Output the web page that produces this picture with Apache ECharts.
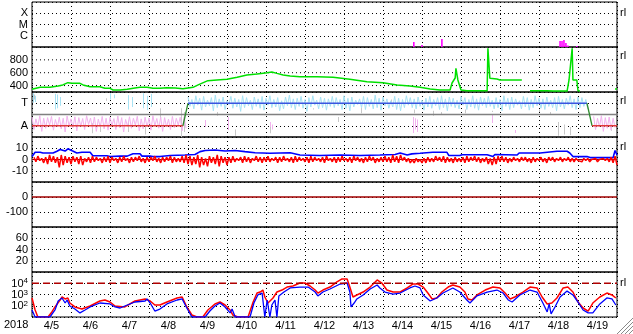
<!DOCTYPE html>
<html><head><meta charset="utf-8">
<script src="https://cdn.jsdelivr.net/npm/echarts@6/dist/echarts.min.js"></script>
<style>html,body{margin:0;padding:0;background:#fff;overflow:hidden}#c{width:633px;height:334px}</style>
</head><body><div id="c"></div>
<script>
// ---------- DATA (x in days since 2018-04-05 00:00 UT) ----------
const yearLabel = '2018';
const dayLabels = ['4/5','4/6','4/7','4/8','4/9','4/10','4/11','4/12','4/13','4/14','4/15','4/16','4/17','4/18','4/19'];
const xrayLabels = {1:'C', 2:'M', 3:'X'};
const speedLabels = [400, 600, 800];
const btLabels = [-10, 0, 10];
const dstLabels = [0, -100];
const kpLabels = [20, 40, 60];
const fluxLabelExp = [2, 3, 4];
const rightMarks = ['rl','rl','rl','rl','rl'];

// X-ray flare bars
const xrayDays = [9.79, 10.0, 10.51, 13.54, 13.59, 13.64, 13.69, 13.74, 13.97];
const xrayFlux = [2.8e-7, 1.5e-7, 5.1e-7, 3.4e-7, 3.4e-7, 4.2e-7, 2.3e-7, 1.35e-7, 1.2e-7];

// Solar wind speed (km/s), null = gap
const speedDays = [0,0.21,0.46,0.67,0.79,0.92,1.03,1.23,1.31,1.49,1.74,1.87,2.0,2.08,2.26,2.44,2.64,2.77,2.95,3.10,3.28,3.46,3.67,3.87,4.13,4.26,4.31,4.51,4.74,5.0,5.26,5.51,5.77,6.03,6.15,6.28,6.44,6.62,6.87,7.31,7.72,8.15,8.59,9.0,9.36,9.69,9.95,10.21,10.46,10.72,10.77,10.85,10.87,10.92,10.97,11.0,11.15,11.49,11.67,11.69,11.74,11.92,12.0,12.56,12.6,12.77,13.21,13.36,13.72,13.77,13.85,13.87,13.97,14.0,14.05,14.1,14.95,15.0];
const speed =     [342,373,373,393,410,445,435,435,410,383,383,357,357,331,331,342,362,373,373,357,357,367,362,352,373,410,435,476,487,497,528,565,580,600,611,590,565,550,538,538,528,497,460,445,410,393,373,347,331,331,440,518,669,487,487,331,320,320,320,980,513,502,487,487,null,320,320,315,315,487,980,487,487,320,315,null,347,347];

// IMF sector: polarity steps
const sectorDays = [0, 3.87, 4.0, 14.23, 14.36, 15];
const sectorPol  = ['A','A','T','T','A','A'];

// IMF longitude angle (deg) envelopes, 0.1-day samples
const cyanStart = 4.0;
const cyanHi = [320,300,330,310,325,295,315,335,305,320,290,325,310,300,330,315,295,320,305,325,310,330,300,315,290,320,335,305,310,325,300,315,330,295,320,310,305,325,315,300,330,310,320,295,305,325,315,300,335,310,320,305,290,325,310,300,330,315,305,320,295,310,325,300,315,330,305,320,310,295,325,315,300,330,305,320,310,325,295,315,300,330,310,320,305,290,325,315,300,330,310,305,320,295,315,325,300,310,330,305,320,315,300];
const cyanLo = [245,225,255,215,240,250,210,235,245,220,260,230,240,205,235,250,220,245,230,215,255,235,240,210,225,250,235,220,245,230,205,240,255,225,235,215,245,235,250,220,230,210,240,260,235,220,245,225,235,215,250,230,240,220,210,235,255,235,225,245,215,240,230,250,220,235,210,245,235,225,255,220,240,230,215,250,235,245,225,235,210,245,220,235,255,225,240,215,235,250,230,220,245,235,210,240,225,255,235,220,235,245,225];
const pinkStart = 0.0;
const pinkHi = [160,145,170,150,155,165,140,158,150,168,145,162,155,148,170,152,160,143,165,150,158,147,168,155,140,162,150,166,145,158,152,170,148,160,155,143,165,150,158,162];
const pinkLo = [60,85,45,70,95,55,80,65,40,90,75,50,85,60,100,70,45,80,65,55,90,60,75,40,85,70,95,50,65,80,55,90,70,45,80,60,75,95,50,70];
const pinkEndStart = 14.4;
const pinkEndHi = [165,150,170,155,160,150];
const pinkEndLo = [60,80,45,70,55,75];
// isolated streaks [day, angle1, angle2]
const cyanStreaks = [[0.03,350,275],[0.08,330,280],[0.6,345,220],[0.66,340,230],[0.72,320,250],[2.0,350,300],[2.1,340,310],[2.46,335,220],[2.56,320,240],[2.85,350,230],[2.95,330,215],[3.05,345,240]];
const pinkStreaks = [[4.44,136,80],[5.03,160,56],[6.1,120,80],[6.15,100,60],[9.77,160,32],[9.82,150,60],[9.87,140,40],[11.8,176,112],[12.38,56,32]];
const grayStreaks = [[0.05,340,300],[1.55,110,30],[1.75,100,40],[1.9,310,290],[2.48,130,40],[2.9,90,20],[3.28,230,150],[3.82,230,0],[3.9,200,40],[4.75,200,170],[5.2,60,10],[6.12,100,30],[7.2,230,220],[7.85,160,120],[8.45,235,190],[9.2,300,280],[9.8,220,190],[10.3,210,170],[10.5,200,180],[11.1,220,190],[11.8,210,200],[13.0,220,200],[13.3,200,180],[13.5,120,10],[13.65,100,20],[13.8,80,15],[14.85,100,50]];

// IMF |B| (nT)
const btDays = [0,0.08,0.21,0.28,0.54,0.64,0.72,0.85,0.92,1.03,1.15,1.28,1.49,1.56,1.92,2.0,2.26,2.44,2.59,2.77,2.82,3.03,3.10,3.28,3.54,3.92,4.18,4.31,4.44,4.69,4.95,5.21,5.46,5.72,6.10,6.62,6.87,7.38,7.90,8.41,8.92,9.31,9.44,9.62,9.74,9.95,10.28,10.64,10.69,10.97,11.03,11.67,11.72,11.82,11.87,12.44,12.49,13.03,13.46,13.72,13.79,13.87,14.23,14.31,14.90,14.95,15.0];
const bt =     [2.6,6.4,6.4,5.8,5.8,7.3,8.9,7.5,9.5,7.7,5.8,6.4,6.4,3.3,3.3,2.6,3.0,3.0,5.1,5.1,3.0,3.0,2.6,2.6,3.5,4.0,4.5,7.0,8.0,8.5,7.5,8.0,7.0,6.0,5.5,6.0,4.0,3.5,4.0,3.5,4.0,4.5,5.8,4.0,5.0,5.5,6.4,6.4,3.5,3.5,4.2,4.2,2.6,2.6,4.5,4.0,5.8,5.8,7.3,7.3,5.8,2.6,2.6,1.7,1.7,8.0,4.0];
// IMF Bz (nT) envelope, 0.1-day samples
const bzStart = 0.0;
const bzHi = [2,3,1,2,4,3,2,4,3,2, 3,2,3,1,2,3,2,1,2,3, 2,1,2,3,1,2,2,3,1,2, 2,3,1,2,2,3,2,1,3,4, 3,2,4,2,1,3,2,4,3,2, 2,3,1,2,3,2,1,3,2,2, 3,1,2,2,3,1,2,3,2,1, 2,3,2,1,2,3,1,2,2,3, 1,2,3,2,1,2,3,2,1,2, 3,2,4,3,4,2,1,0,1,0, 1,2,1,3,2,3,2,1,2,1, 2,3,2,3,2,1,2,1,2,3, 3,2,1,2,1,2,2,1,2,1, 2,1,2,2,1,2,1,2,1,1, 0,1,1,0,1,0,1,1,2,3];
const bzLo = [-2,-1,-3,-4,-2,-3,-7,-5,-3,-4, -2,-4,-5,-2,-3,-2,-1,-3,-2,-3, -1,-3,-2,-1,-3,-2,-1,-2,-3,-2, -1,-2,-3,-2,-1,-3,-2,-2,-3,-4, -5,-4,-7,-5,-6,-3,-4,-6,-3,-5, -3,-2,-1,-3,-2,-3,-1,-2,-3,-2, -2,-1,-3,-2,-1,-2,-3,-2,-1,-2, -3,-2,-1,-2,-3,-1,-2,-3,-2,-1, -2,-3,-1,-2,-3,-2,-1,-3,-2,-2, -2,-3,-2,-3,-1,-2,-3,-3,-2,-3, -3,-2,-2,-1,-2,-3,-2,-3,-2,-2, -3,-2,-1,-2,-3,-2,-4,-5,-4,-2, -2,-3,-2,-1,-2,-1,-2,-3,-2,-1, -2,-3,-1,-2,-1,-2,-1,-2,-2,-1, -2,-1,-2,-1,-2,-1,-1,-2,-3,-5];

// Electron flux (satellite A red, satellite B blue)
const fluxADays = [0,0.08,0.15,0.41,0.51,0.59,0.72,0.77,0.85,0.92,0.97,1.10,1.28,1.49,1.74,1.87,2.0,2.13,2.38,2.64,2.90,3.03,3.15,3.28,3.46,3.72,3.85,3.97,4.10,4.23,4.38,4.51,4.69,4.82,4.95,5.08,5.15,5.28,5.54,5.67,5.77,5.85,5.92,5.97,6.05,6.18,6.28,6.41,6.54,6.69,6.87,7.0,7.13,7.26,7.33,7.46,7.64,7.82,7.95,8.08,8.15,8.23,8.33,8.49,8.67,8.85,8.97,9.10,9.26,9.44,9.62,9.77,9.90,10.03,10.15,10.26,10.38,10.51,10.67,10.79,10.97,11.10,11.18,11.28,11.41,11.62,11.82,12.0,12.13,12.26,12.38,12.59,12.77,12.95,13.08,13.21,13.33,13.46,13.62,13.74,13.87,14.0,14.13,14.26,14.38,14.56,14.74,14.87,14.97];
const fluxA = [490,42,10,10,28,78,325,600,400,490,175,78,51,95,265,325,215,95,78,265,400,265,117,117,215,490,600,78,15,10,10,42,144,215,117,42,15,10,10,215,1350,1660,2500,600,175,490,1660,2500,4600,5700,10500,10500,5700,2500,1350,2500,4600,13000,24000,24000,4600,600,910,1660,4600,19500,10500,2500,1660,1660,3800,8600,8600,4600,1350,400,490,1660,4600,7000,4600,1660,400,325,910,2500,4600,3800,1350,400,600,1660,4600,3800,600,144,175,490,3800,4600,1660,215,63,34,175,600,1350,910,490];
const fluxBDays = [0,0.08,0.46,0.59,0.67,0.77,0.85,0.90,0.97,1.10,1.23,1.36,1.49,1.74,2.0,2.13,2.26,2.38,2.64,2.90,2.95,3.03,3.15,3.28,3.46,3.72,3.85,3.97,4.10,4.44,4.56,4.69,4.82,4.95,5.08,5.13,5.21,5.59,5.69,5.79,5.90,5.97,6.03,6.10,6.15,6.23,6.28,6.33,6.46,6.62,6.87,7.08,7.26,7.33,7.46,7.64,7.90,8.08,8.15,8.18,8.26,8.33,8.49,8.67,8.85,8.92,9.05,9.26,9.44,9.69,9.82,9.95,10.03,10.21,10.38,10.54,10.79,10.97,11.15,11.23,11.41,11.67,11.92,12.08,12.21,12.31,12.51,12.77,12.95,13.10,13.21,13.26,13.31,13.41,13.54,13.72,13.87,14.0,14.13,14.26,14.31,14.38,14.56,14.74,14.87,14.97];
const fluxB = [42,10,10,42,265,490,175,325,95,51,23,42,78,175,144,78,63,95,215,265,400,175,34,51,144,325,400,63,10,10,34,95,175,78,23,51,10,10,175,910,1350,10,325,10,117,325,10,750,1660,3800,4600,4600,1660,750,1660,3100,8600,10500,1660,78,175,400,910,3100,7000,3800,1660,1100,1350,3800,5700,3800,910,265,490,1350,3800,1660,325,175,750,1660,2500,1350,325,215,910,2500,1660,175,28,144,19,78,600,2000,910,215,42,23,34,23,144,490,400,117];

// ---------- CHART ----------
const FF = '"Liberation Sans", Arial, Helvetica, sans-serif';
const tops = [2, 47, 92, 137, 182, 227, 272];
const dot = {color:'#000', type:[1,3], width:1};
const lab = (fmt, extra) => Object.assign({fontFamily:FF, fontSize:11, color:'#000', margin:4, formatter:fmt}, extra||{});

const grids = tops.map(t => ({left:32, right:16, top:t, height:45, show:true, borderColor:'#000', borderWidth:1, backgroundColor:'rgba(0,0,0,0)'}));
const xAxes = tops.map((t,i) => ({type:'value', gridIndex:i, min:0, max:15, interval:1,
  axisLine:{show:false}, axisTick:{show:false}, axisLabel:{show:false}, splitLine:{show:true, lineStyle:dot}}));
xAxes.push({type:'value', gridIndex:6, min:0, max:15, interval:0.5, position:'bottom',
  axisLine:{show:false}, axisTick:{show:false}, splitLine:{show:false},
  axisLabel:{fontFamily:FF, fontSize:11, color:'#000', margin:3, showMinLabel:true, showMaxLabel:true,
    formatter: v => { const k = v - 0.5; const r = Math.round(k); return (Math.abs(k-r)<1e-6 && r>=0 && r<dayLabels.length) ? dayLabels[r] : ''; }}});

const yc = (i, o) => Object.assign({type:'value', gridIndex:i, axisLine:{show:false}, axisTick:{show:false},
  splitLine:{show:true, lineStyle:dot}}, o);
const yAxes = [
  yc(0, {min:0, max:4, interval:1, axisLabel:lab(v => xrayLabels[v] || '')}),
  yc(1, {min:300, max:1000, interval:100, splitLine:{show:false}, axisLabel:lab(v => speedLabels.includes(v) ? String(v) : '')}),
  yc(2, {min:0, max:360, interval:90, axisLabel:lab(v => v===270 ? 'T' : (v===90 ? 'A' : ''))}),
  yc(3, {min:-20, max:20, interval:10, axisLabel:lab(v => btLabels.includes(v) ? String(v) : '')}),
  yc(4, {min:-200, max:100, interval:100, axisLabel:lab(v => dstLabels.includes(v) ? String(v) : '')}),
  yc(5, {min:0, max:80, interval:20, axisLabel:lab(v => kpLabels.includes(v) ? String(v) : '')}),
  {type:'log', logBase:10, gridIndex:6, min:10, max:100000, axisLine:{show:false}, axisTick:{show:false},
   splitLine:{show:true, lineStyle:dot},
   axisLabel:{fontFamily:FF, color:'#000', margin:4,
     formatter: v => { const e = Math.round(Math.log10(v)); return fluxLabelExp.includes(e) ? '{b|10}{s|' + e + '}' : ''; },
     rich:{b:{fontFamily:FF, fontSize:11, lineHeight:12, color:'#000', verticalAlign:'bottom'},
           s:{fontFamily:FF, fontSize:8, lineHeight:8, color:'#000', verticalAlign:'top'}}}}
];

const base = {animation:false, silent:true, symbol:'none', showSymbol:false};
const ln = (gi, data, color, width, extra) => Object.assign({}, base, {type:'line', xAxisIndex:gi, yAxisIndex:gi, data,
  lineStyle:Object.assign({color, width}, (extra&&extra.ls)||{}), itemStyle:{color}, connectNulls:false, z:(extra&&extra.z)||2});
const hline = (gi, v, color, width, type, z) => ln(gi, [[0,v],[15,v]], color, width, {ls:{type}, z});
const zig = (t0, dt, hi, lo) => { const out = []; for (let i=0;i<hi.length;i++){ out.push([t0+i*dt, hi[i]]); out.push([t0+i*dt+dt/2, lo[i]]); } return out; };
const segs = (arr, color, z) => Object.assign({}, base, {type:'lines', coordinateSystem:'cartesian2d', xAxisIndex:2, yAxisIndex:2, z,
  lineStyle:{color, width:1, opacity:1}, data: arr.map(s => ({coords:[[s[0], s[1]], [s[0], s[2]]]}))});
const polAngle = p => p === 'T' ? 270 : 90;

// sector line pieces
const sectorPieces = [];
for (let i=0;i<sectorDays.length-1;i++){
  const a = polAngle(sectorPol[i]), b = polAngle(sectorPol[i+1]);
  const col = a!==b ? '#2e8b2e' : (a===270 ? '#3a55e0' : '#e23a3a');
  sectorPieces.push(ln(2, [[sectorDays[i], a], [sectorDays[i+1], b]], col, 1.3, {z:6}));
}

const series = [
  Object.assign({}, base, {type:'bar', xAxisIndex:0, yAxisIndex:0, barWidth:1.6, itemStyle:{color:'#ff00ff'},
    data: xrayDays.map((d,i) => [d, Math.log10(xrayFlux[i]) + 7])}),
  ...speedLabels.map(v => hline(1, v, '#000', 1, [1,3], 1)),
  ln(1, speedDays.map((d,i) => [d, speed[i]]), '#00e000', 1.5),
  segs(grayStreaks, '#c8c8c8', 2),
  ln(2, zig(pinkStart, 0.1, pinkHi, pinkLo), '#f2b2ee', 1, {z:3}),
  ln(2, zig(pinkEndStart, 0.1, pinkEndHi, pinkEndLo), '#f2b2ee', 1, {z:3}),
  segs(pinkStreaks, '#f2b2ee', 3),
  ln(2, zig(cyanStart, 0.1, cyanHi, cyanLo), '#a6e2f4', 1, {z:3}),
  segs(cyanStreaks, '#a6e2f4', 3),
  hline(2, 180, '#808080', 1.3, 'solid', 5),
  ...sectorPieces,
  hline(3, 0, '#a00000', 1, 'solid', 2),
  ln(3, btDays.map((d,i) => [d, bt[i]]), '#0000ff', 1.6, {z:3}),
  ln(3, zig(bzStart + 0.05, 0.1, bzHi, bzLo), '#ff0000', 1.5, {z:4}),
  hline(4, 0, '#a00000', 1.3, 'solid', 3),
  ln(6, fluxADays.map((d,i) => [d, fluxA[i]]), '#ff0000', 1.5, {z:3}),
  ln(6, fluxBDays.map((d,i) => [d, fluxB[i]]), '#0000ff', 1.3, {z:4}),
  hline(6, 10000, '#b00000', 1.5, [7,4], 5)
];

const markY = [13, 56, 101, 147, 283];
const graphic = [
  {type:'text', left:4, top:319, style:{text:yearLabel, font:'11px ' + FF, fill:'#000'}},
  ...rightMarks.map((m,i) => ({type:'text', left:620, top:markY[i]-6, style:{text:m, font:'11px ' + FF, fill:'#000'}})),
  ...[4,8,12,16].map(s => ({type:'line', shape:{x1:633-s, y1:334, x2:633, y2:334-s}, style:{stroke:'#8a8a8a', lineWidth:1}})),
  ...[5,9,13].map(s => ({type:'line', shape:{x1:633-s, y1:334, x2:633, y2:334-s}, style:{stroke:'#ffffff', lineWidth:1}}))
];

const chart = echarts.init(document.getElementById('c'), null, {renderer:'canvas'});
chart.setOption({animation:false, backgroundColor:'#fff', textStyle:{fontFamily:FF},
  grid:grids, xAxis:xAxes, yAxis:yAxes, series, graphic});
</script></body></html>
